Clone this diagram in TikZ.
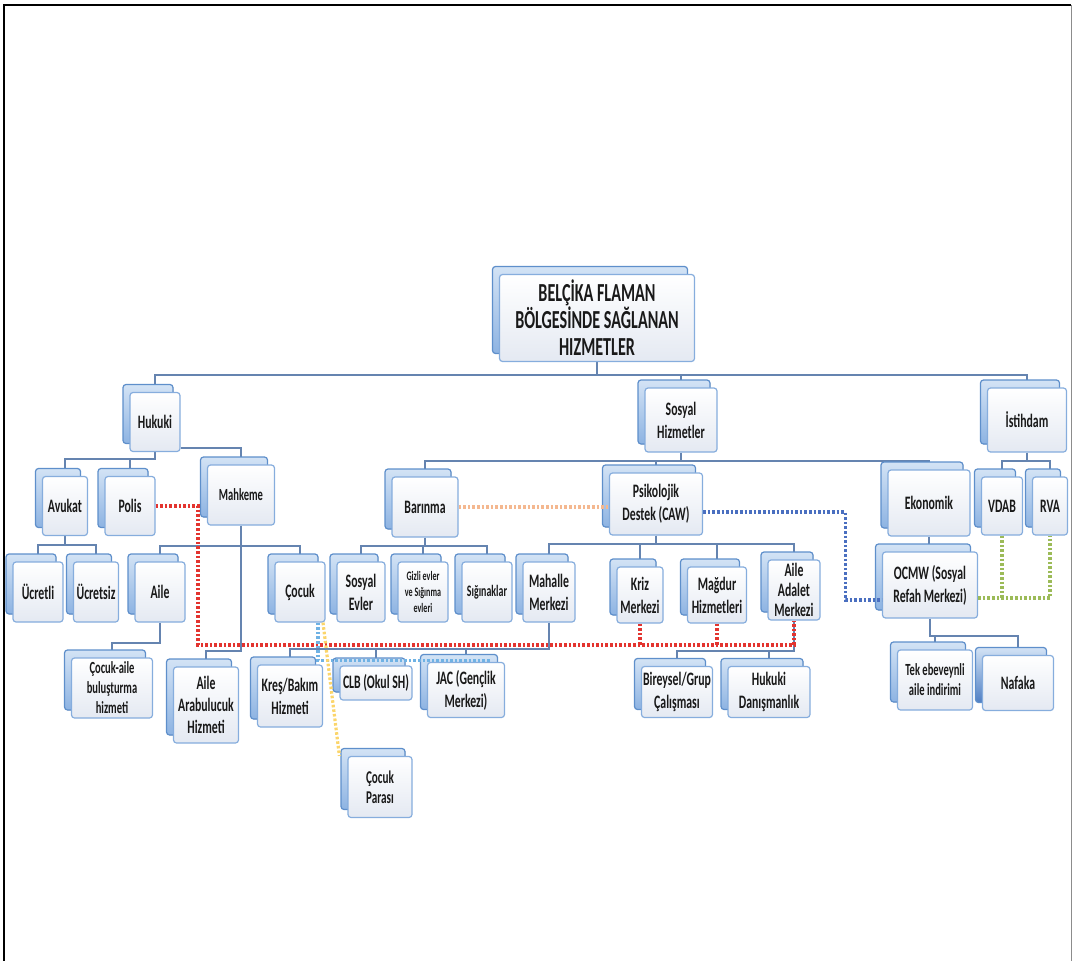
\documentclass[tikz,border=0pt]{standalone}
\usepackage{fontspec}
\setmainfont[FakeStretch=0.62]{Carlito}
\usetikzlibrary{shadows, backgrounds}

\definecolor{kenar}{HTML}{86ADDD}
\definecolor{onalt}{HTML}{E4E9F2}
\definecolor{arkaust}{HTML}{D3E3F5}
\definecolor{arkaalt}{HTML}{8DB3E2}
\definecolor{arkakoyu}{HTML}{4F7FC4}
\definecolor{arkakenar}{HTML}{5E8FCB}
\definecolor{hat}{HTML}{6584B0}
\definecolor{kirmizi}{HTML}{E3342F}
\definecolor{turuncu}{HTML}{F4B890}
\definecolor{lacivert}{HTML}{4A6FC0}
\definecolor{yesil}{HTML}{9CBB58}
\definecolor{acikmavi}{HTML}{6FB2E4}
\definecolor{sari}{HTML}{FBD56B}

\tikzset{
    kutu/.style={draw=kenar, line width=1.2pt, rounded corners=3pt,
        top color=white, bottom color=onalt, align=center, inner sep=1pt,
        font=\bfseries\fontsize{19}{23}\selectfont, text=black!90,
        copy shadow={shadow xshift=-7pt, shadow yshift=8pt, draw=arkakenar,
            top color=arkaust, bottom color=#1}},
    kutu/.default=arkaalt,
    agac/.style={draw=hat, line width=2.2pt},
    nokta/.style={line width=3.2pt, dash pattern=on 2.6pt off 2pt},
}

\begin{document}
\begin{tikzpicture}[x=1pt, y=-1pt]
    \useasboundingbox (0,0) rectangle (1074,961);

    % frame
    \draw[line width=2.5pt] (4,961) -- (4,5) -- (1071,5);
    \draw[black!45, line width=1pt] (1071,5) -- (1071,961);

    \node[kutu, minimum width=195pt, minimum height=87pt, font=\bfseries\fontsize{26}{27}\selectfont] (baslik) at (597,318) {BELÇİKA FLAMAN\\BÖLGESİNDE SAĞLANAN\\HIZMETLER};

    \node[kutu, minimum width=50pt, minimum height=59pt] (hukuki) at (155,422) {Hukuki};
    \node[kutu, minimum width=72pt, minimum height=64pt] (sosyal) at (681,420) {Sosyal\\Hizmetler};
    \node[kutu, minimum width=79pt, minimum height=64pt] (istihdam) at (1027,420) {İstihdam};

    % hukuki
    \node[kutu, minimum width=45pt, minimum height=59pt] (avukat) at (65,506) {Avukat};
    \node[kutu, minimum width=50pt, minimum height=59pt] (polis) at (130,506) {Polis};
    \node[kutu, minimum width=67pt, minimum height=60pt, font=\bfseries\fontsize{17}{21}\selectfont] (mahkeme) at (241,495) {Mahkeme};
    \node[kutu, minimum width=50pt, minimum height=60pt] (ucretli) at (38,592) {Ücretli};
    \node[kutu, minimum width=45pt, minimum height=60pt] (ucretsiz) at (96,592) {Ücretsiz};
    \node[kutu, minimum width=50pt, minimum height=60pt] (aile) at (160,592) {Aile};
    \node[kutu, minimum width=50pt, minimum height=60pt] (cocuk) at (300,592) {Çocuk};
    \node[kutu, minimum width=81pt, minimum height=60pt, font=\bfseries\fontsize{17}{20}\selectfont] (cocukaile) at (112,688) {Çocuk-aile\\buluşturma\\hizmeti};
    \node[kutu, minimum width=65pt, minimum height=76pt, font=\bfseries\fontsize{19}{22}\selectfont] (arabulucuk) at (206,705) {Aile\\Arabulucuk\\Hizmeti};

    % sosyal hizmetler
    \node[kutu, minimum width=66pt, minimum height=60pt] (barinma) at (425,507) {Barınma};
    \node[kutu, minimum width=93pt, minimum height=62pt] (psikolojik) at (656,504) {Psikolojik\\Destek (CAW)};
    \node[kutu, minimum width=82pt, minimum height=66pt] (ekonomik) at (929,503) {Ekonomik};
    \node[kutu, minimum width=48pt, minimum height=60pt] (sosyalevler) at (361,592) {Sosyal\\Evler};
    \node[kutu, minimum width=50pt, minimum height=60pt, font=\bfseries\fontsize{13}{16}\selectfont] (gizli) at (423,592) {Gizli evler\\ve Sığınma\\evleri};
    \node[kutu, minimum width=50pt, minimum height=60pt, font=\bfseries\fontsize{16}{20}\selectfont] (siginaklar) at (487,592) {Sığınaklar};
    \node[kutu, minimum width=52pt, minimum height=60pt] (mahalle) at (549,592) {Mahalle\\Merkezi};
    \node[kutu, minimum width=46pt, minimum height=56pt] (kriz) at (640,595) {Kriz\\Merkezi};
    \node[kutu, minimum width=59pt, minimum height=56pt] (magdur) at (717,595) {Mağdur\\Hizmetleri};
    \node[kutu, minimum width=52pt, minimum height=60pt, font=\bfseries\fontsize{19}{20}\selectfont] (adalet) at (794,590) {Aile\\Adalet\\Merkezi};
    \node[kutu, minimum width=65pt, minimum height=62pt] (kres) at (290,696) {Kreş/Bakım\\Hizmeti};
    \node[kutu, minimum width=72pt, minimum height=34pt] (clb) at (376,683) {CLB (Okul SH)};
    \node[kutu, minimum width=77pt, minimum height=55pt] (jac) at (466,690) {JAC (Gençlik\\Merkezi)};
    \node[kutu, minimum width=64pt, minimum height=61pt, font=\bfseries\fontsize{18}{20}\selectfont] (cocukparasi) at (380,787) {Çocuk\\Parası};
    \node[kutu, minimum width=71pt, minimum height=51pt] (bireysel) at (677,692) {Bireysel/Grup\\Çalışması};
    \node[kutu, minimum width=82pt, minimum height=51pt] (hukukidan) at (769,692) {Hukuki\\Danışmanlık};
    \node[kutu, minimum width=95pt, minimum height=66pt] (ocmw) at (930,585) {OCMW (Sosyal\\Refah Merkezi)};
    \node[kutu, minimum width=75pt, minimum height=60pt, font=\bfseries\fontsize{17}{20}\selectfont] (tek) at (935,680) {Tek ebeveynli\\aile indirimi};
    \node[kutu=arkakoyu, minimum width=71pt, minimum height=55pt] (nafaka) at (1018,683) {Nafaka};

    % istihdam
    \node[kutu, minimum width=41pt, minimum height=58pt] (vdab) at (1002,506) {VDAB};
    \node[kutu, minimum width=35pt, minimum height=58pt] (rva) at (1050,506) {RVA};

    % tree lines
    \begin{scope}[on background layer]
        \foreach \c in {hukuki, sosyal, istihdam}
            \draw[agac] (baslik.south) -- ++(0,13) -| (\c.north);
        \foreach \c in {avukat, polis}
            \draw[agac] (hukuki.south) -- ++(0,7) -| (\c.north);
        \draw[agac] ([yshift=4pt]hukuki.south east) -| (mahkeme.north);
        \foreach \c in {ucretli, ucretsiz}
            \draw[agac] (avukat.south) -- ++(0,9) -| (\c.north);
        \foreach \c in {aile, cocuk}
            \draw[agac] (mahkeme.south) -- ++(0,20) -| (\c.north);
        \draw[agac] (mahkeme.south) -- ++(0,125) -| (arabulucuk.north);
        \draw[agac] (aile.south) -- ++(0,20) -| (cocukaile.north);
        \foreach \c in {barinma, psikolojik, ekonomik}
            \draw[agac] (sosyal.south) -- ++(0,8) -| (\c.north);
        \foreach \c in {sosyalevler, gizli, siginaklar}
            \draw[agac] (barinma.south) -- ++(0,8) -| (\c.north);
        \foreach \c in {mahalle, kriz, magdur, adalet}
            \draw[agac] (psikolojik.south) -- ++(0,8) -| (\c.north);
        \foreach \c in {kres, clb, jac}
            \draw[agac] (mahalle.south) -- ++(0,26) -| (\c.north);
        \foreach \c in {bireysel, hukukidan}
            \draw[agac] (adalet.south) -- ++(0,30) -| (\c.north);
        \foreach \c in {vdab, rva}
            \draw[agac] (istihdam.south) -- ++(0,8) -| (\c.north);
        \draw[agac] (ekonomik.south) -- (ekonomik.south |- ocmw.north);
        \foreach \c in {tek, nafaka}
            \draw[agac] (ocmw.south) -- ++(0,17) -| (\c.north);
    \end{scope}

    % dotted links
    \coordinate (kk1) at (198,645);
    \coordinate (kk2) at (794,645);
    \draw[nokta, kirmizi] (polis.east) -| (kk1) -- (kk2) -- (adalet.south);
    \draw[nokta, kirmizi] (kriz.south) -- (kriz.south |- kk1);
    \draw[nokta, kirmizi] (magdur.south) -- (magdur.south |- kk1);

    \draw[nokta, turuncu] (barinma.east) -- (barinma.east -| psikolojik.west);
    \draw[nokta, lacivert] ([yshift=-8pt]psikolojik.east) -- ++(142,0) |- ([yshift=-15pt]ocmw.west);

    \coordinate (yesilhat) at ([yshift=-13pt]ocmw.east);
    \draw[nokta, yesil] (yesilhat) -| (rva.south);
    \draw[nokta, yesil] (vdab.south) -- (vdab.south |- yesilhat);

    \draw[nokta, acikmavi] ([xshift=18pt]cocuk.south) -- ++(0,38) -| ([xshift=24pt]jac.north);
    \draw[nokta, sari] ([xshift=23pt]cocuk.south) -- ([xshift=-8pt]cocukparasi.north west);

\end{tikzpicture}
\end{document}
